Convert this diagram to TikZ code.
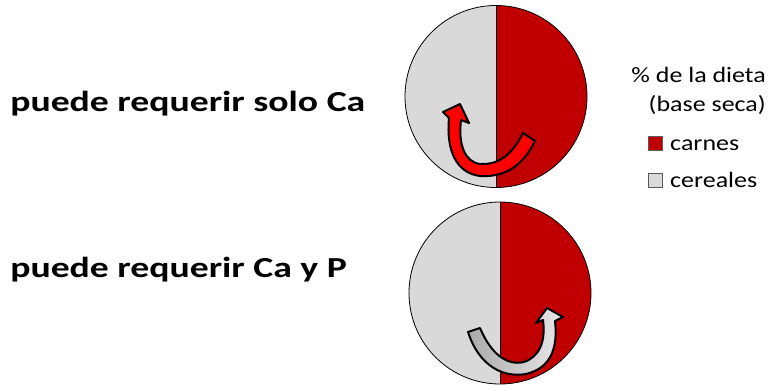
\documentclass[tikz,border=0pt]{standalone}
\usepackage{fontspec}
\setmainfont{Carlito}
\usetikzlibrary{positioning,calc}
\definecolor{meatred}{RGB}{192,0,0}
\definecolor{cerealgray}{RGB}{217,217,217}
\definecolor{arrowred}{RGB}{255,0,0}
\definecolor{arrowgray}{RGB}{170,170,170}
\definecolor{arrowlight}{RGB}{232,232,232}

\begin{document}
\begin{tikzpicture}[x=1pt, y=-1pt, line join=round,
    title/.style={anchor=base west, xscale=1.3, font=\fontsize{29}{34}\selectfont\bfseries, inner sep=0},
    keytext/.style={xscale=1.18, font=\fontsize{22}{26}\selectfont, inner sep=0},
    keybox/.style={draw=gray!70!black, line width=0.6, minimum size=14, inner sep=0},
    blockarrow/.style={draw=black, line width=2}]
    \useasboundingbox (0,0) rectangle (774,391);

    % Labels on the left
    \node[title] (onlyCa) at (10,111) {puede requerir solo Ca};
    \node[title] (caAndP) at (10,277) {puede requerir Ca y P};

    % Top pie
    \coordinate (topPie) at (496,96.5);
    \fill[cerealgray] (topPie) circle (91);
    \begin{scope}
        \clip (topPie) circle (91);
        \fill[meatred] (496,0) rectangle (600,200);
    \end{scope}
    \draw[line width=0.8] (topPie) circle (91);
    \draw[line width=0.8] (496,5.5) -- (496,187.5);

    % Bottom pie
    \coordinate (botPie) at (500,293);
    \fill[cerealgray] (botPie) circle (91);
    \begin{scope}
        \clip (botPie) circle (91);
        \fill[meatred] (500,195) rectangle (600,391);
    \end{scope}
    \draw[line width=0.8] (botPie) circle (91);
    \draw[line width=0.8] (500,202) -- (500,384);

    % Curved arrow, top
    \filldraw[blockarrow, fill=arrowred]
        (535,141) .. controls (520,172) and (498,177) .. (480,176)
        .. controls (456,173) and (446,150) .. (449,118)
        -- (443,112) -- (460,104) -- (469,123) -- (461,120)
        .. controls (458,145) and (465,162) .. (480,164)
        .. controls (495,165) and (511,158) .. (523,133) -- cycle;

    % Curved arrow, bottom
    \shadedraw[blockarrow, left color=arrowgray, right color=arrowlight]
        (468,332) .. controls (479,366) and (503,378) .. (526,374)
        .. controls (551,368) and (558,348) .. (555,321)
        -- (563,317) -- (547,308) -- (536,323) -- (543,320)
        .. controls (546,342) and (539,357) .. (524,362)
        .. controls (507,366) and (491,354) .. (480,328) -- cycle;

    % Legend
    \node[keytext, anchor=base east] (keyTitle) at (766,82) {\% de la dieta};
    \node[keytext, anchor=base east] (keyBase) at (766,111) {(base seca)};
    \node[keybox, fill=meatred] (boxMeat) at (655,143) {};
    \node[keytext, anchor=base west] (keyMeat) at (670,150) {carnes};
    \node[keybox, fill=cerealgray] (boxCereal) at (655,180) {};
    \node[keytext, anchor=base west] (keyCereal) at (670,187) {cereales};
\end{tikzpicture}
\end{document}
